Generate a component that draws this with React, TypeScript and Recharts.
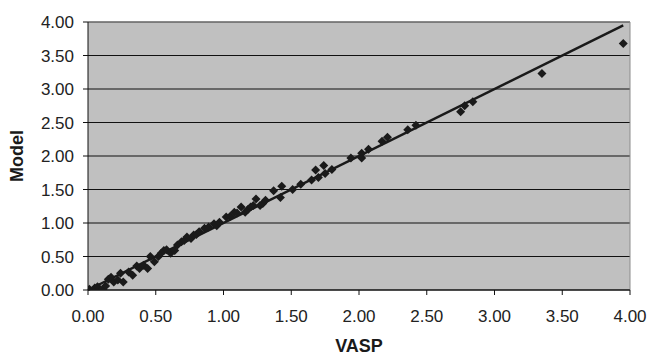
import React from 'react';
import {
  ScatterChart,
  Scatter,
  XAxis,
  YAxis,
  CartesianGrid,
  ReferenceLine,
  Label,
} from 'recharts';

// values
const vaspValues = [
  0.0, 0.01, 0.05, 0.07, 0.11, 0.13, 0.15, 0.17, 0.19, 0.22, 0.24, 0.26, 0.3, 0.33, 0.36, 0.38,
  0.41, 0.44, 0.46, 0.49, 0.52, 0.54, 0.56, 0.58, 0.61, 0.64, 0.66, 0.69, 0.71, 0.73, 0.76,
  0.78, 0.8, 0.82, 0.86, 0.89, 0.93, 0.95, 0.97, 1.02, 1.05, 1.08, 1.1, 1.13, 1.16, 1.18,
  1.22, 1.29, 1.2, 1.27, 1.24, 1.31, 1.42, 1.37, 1.43, 1.51, 1.57, 1.65, 1.7, 1.75, 1.68,
  1.74, 1.8, 1.94, 2.02, 2.02, 2.07, 2.21, 2.17, 2.42, 2.36, 2.75, 2.78, 2.84, 3.35, 3.95,
];
const modelValues = [
  0.0, 0.01, 0.03, 0.05, 0.01, 0.06, 0.16, 0.19, 0.12, 0.15, 0.25, 0.12, 0.27, 0.22, 0.36, 0.32,
  0.37, 0.32, 0.5, 0.42, 0.5, 0.55, 0.59, 0.6, 0.55, 0.59, 0.67, 0.72, 0.74, 0.79, 0.77,
  0.82, 0.83, 0.87, 0.92, 0.94, 0.99, 0.96, 1.01, 1.09, 1.1, 1.16, 1.15, 1.24, 1.16, 1.2,
  1.26, 1.29, 1.24, 1.26, 1.36, 1.34, 1.38, 1.48, 1.55, 1.5, 1.58, 1.64, 1.68, 1.74, 1.79,
  1.86, 1.8, 1.97, 1.97, 2.04, 2.1, 2.28, 2.22, 2.46, 2.39, 2.66, 2.75, 2.81, 3.23, 3.68,
];
const fitLineX = [0, 3.95];
const fitLineY = [0, 3.95];
const axisTicks = [0, 0.5, 1, 1.5, 2, 2.5, 3, 3.5, 4];

const points = vaspValues.map((v, i) => ({ x: v, y: modelValues[i] }));

const FONT = '"Liberation Sans", Arial, sans-serif';
const INK = '#1a1a1a';

// rautový marker jako v Excelu
const Diamond = (props: any) => {
  const { cx, cy } = props;
  if (cx == null || cy == null) return null;
  const r = 4.5;
  return (
    <polygon
      points={`${cx},${cy - r} ${cx + r},${cy} ${cx},${cy + r} ${cx - r},${cy}`}
      fill={INK}
    />
  );
};

const YTitle = (props: any) => {
  const { viewBox } = props;
  const cy = viewBox.y + viewBox.height / 2;
  const x = 17;
  return (
    <text
      x={x}
      y={cy}
      transform={`rotate(-90, ${x}, ${cy})`}
      textAnchor="middle"
      dominantBaseline="central"
      fontFamily={FONT}
      fontWeight="bold"
      fontSize={18}
      fill={INK}
    >
      Model
    </text>
  );
};

const tickStyle = { fontFamily: FONT, fontSize: 17, fill: '#222' };

export default function App() {
  return (
    <div style={{ position: 'absolute', left: 0, top: 0, width: 650, height: 356, background: '#fff' }}>
      <ScatterChart width={650} height={356} margin={{ top: 22, right: 20, bottom: 0, left: 0 }}>
        <CartesianGrid
          horizontal
          vertical={false}
          stroke="#111"
          strokeOpacity={1}
          fill="#c0c0c0"
          fillOpacity={1}
        />
        <XAxis
          type="number"
          dataKey="x"
          domain={[0, 4]}
          ticks={axisTicks}
          tickFormatter={(v: number) => v.toFixed(2)}
          height={66}
          tickSize={5}
          tickMargin={15}
          axisLine={{ stroke: '#111' }}
          tickLine={{ stroke: '#111' }}
          tick={tickStyle}
          allowDataOverflow
        >
          <Label
            value="VASP"
            position="insideBottom"
            offset={4}
            style={{ fontFamily: FONT, fontWeight: 'bold', fontSize: 18, fill: INK }}
          />
        </XAxis>
        <YAxis
          type="number"
          dataKey="y"
          domain={[0, 4]}
          ticks={axisTicks}
          tickFormatter={(v: number) => v.toFixed(2)}
          width={88}
          tickSize={5}
          tickMargin={9}
          axisLine={{ stroke: '#111' }}
          tickLine={{ stroke: '#111' }}
          tick={tickStyle}
          allowDataOverflow
        >
          <Label content={<YTitle />} />
        </YAxis>
        <ReferenceLine y={4} stroke="#8c8c8c" strokeWidth={1} />
        <ReferenceLine x={4} stroke="#8c8c8c" strokeWidth={1} />
        <ReferenceLine
          segment={[
            { x: fitLineX[0], y: fitLineY[0] },
            { x: fitLineX[1], y: fitLineY[1] },
          ]}
          stroke={INK}
          strokeWidth={2.5}
        />
        <Scatter data={points} shape={<Diamond />} isAnimationActive={false} />
      </ScatterChart>
    </div>
  );
}
